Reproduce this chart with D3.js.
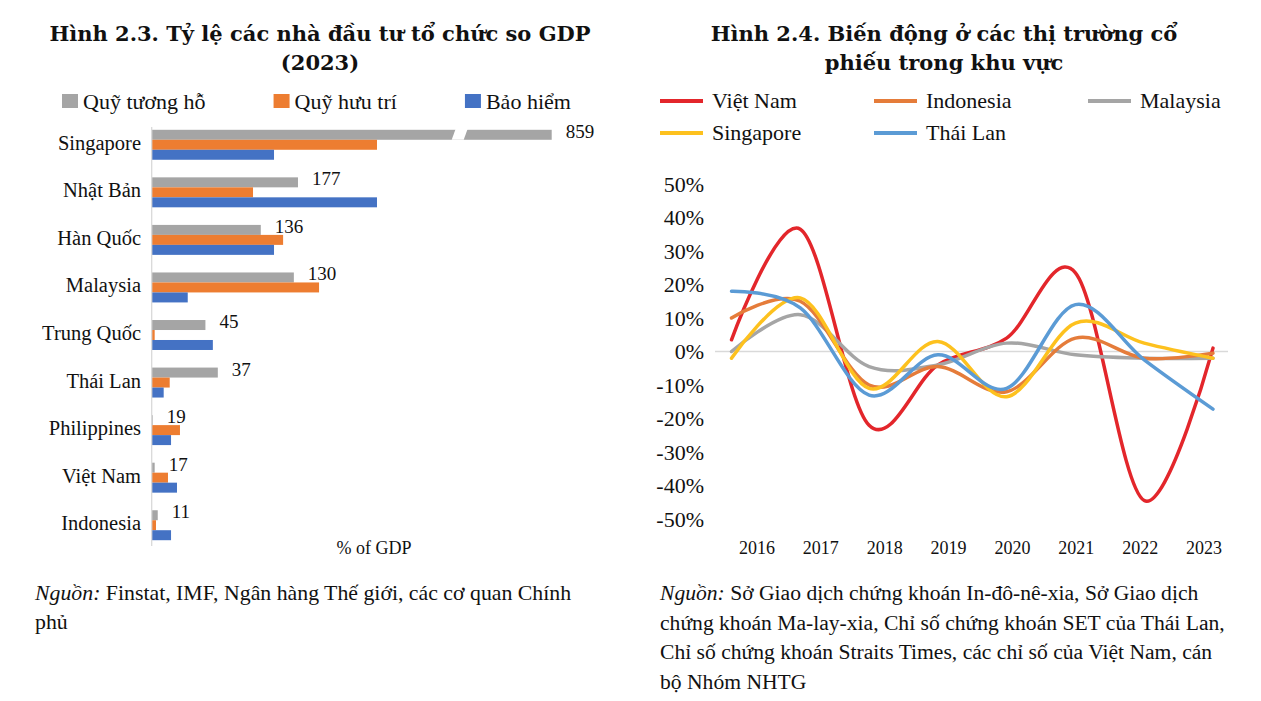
<!DOCTYPE html>
<html><head><meta charset="utf-8">
<script src="https://cdn.jsdelivr.net/npm/d3@7/dist/d3.min.js"></script>
<style>
body{margin:0;background:#fff;}
svg{display:block;}
text{font-family:"Liberation Serif",serif;fill:#111;}
.title{font-family:"DejaVu Serif",serif;font-weight:bold;font-size:21px;}
</style></head>
<body>
<svg id="chart" width="1261" height="701"></svg>
<script>
// ---------- Left chart data ----------
const countries = ["Singapore","Nhật Bản","Hàn Quốc","Malaysia","Trung Quốc","Thái Lan","Philippines","Việt Nam","Indonesia"];
const barSeriesNames = ["Quỹ tương hỗ","Quỹ hưu trí","Bảo hiểm"];
const mutualFunds = [859,177,132,172,65,80,1.2,3.6,7.3];
const pensionFunds = [272.6,122.6,159,202.5,3.6,21.8,34.2,19.7,5.2];
const insurance = [148,272.6,148,43.6,74,14.5,23.4,30.6,23.4];
const valueLabels = [859,177,136,130,45,37,19,17,11];
const barAxisMax = 484;

// ---------- Right chart data ----------
const years = ["2016","2017","2018","2019","2020","2021","2022","2023"];
const lineSeriesNames = ["Việt Nam","Indonesia","Malaysia","Singapore","Thái Lan"];
const vietNam   = [3.5,36.5,-22,-4,4,23.5,-44.5,1];
const indonesia = [10,15,-10,-4.5,-12,4,-2,-0.5];
const malaysia  = [0,11,-4.5,-4,2.5,-1,-2,-2];
const singapore = [-2,16,-11,3,-13.5,8.5,2.5,-2];
const thaiLan   = [18,13,-13,-1,-11,14,-2.5,-17.2];
const yTicks = [50,40,30,20,10,0,-10,-20,-30,-40,-50];

const barColors = ["#a5a5a5","#ed7d31","#4472c4"];
const lineColors = ["#e3262b","#e57c3a","#a5a5a5","#fdc11e","#5b9bd5"];

const svg = d3.select("#chart");

// ================= LEFT CHART =================
const L = svg.append("g");
L.append("text").attr("class","title").attr("x",320).attr("y",41).attr("text-anchor","middle")
  .text("Hình 2.3. Tỷ lệ các nhà đầu tư tổ chức so GDP");
L.append("text").attr("class","title").attr("x",320).attr("y",70).attr("text-anchor","middle")
  .text("(2023)");

// legend
let lx = 62;
barSeriesNames.forEach((n,i)=>{
  L.append("rect").attr("x",lx).attr("y",94).attr("width",16).attr("height",14).attr("fill",barColors[i]);
  const t = L.append("text").attr("x",lx+21).attr("y",109).attr("font-size",22).text(n);
  lx = lx + 21 + t.node().getComputedTextLength() + 68;
});

const x = d3.scaleLinear().domain([0,barAxisMax]).range([151.7,551.7]);
const y = d3.scaleBand().domain(countries).range([121,549]).paddingInner(0.37).paddingOuter(0.185);
const ySub = d3.scaleBand().domain([0,1,2]).range([0,y.bandwidth()]);
const seriesVals = [mutualFunds,pensionFunds,insurance];

countries.forEach((c,ci)=>{
  seriesVals.forEach((arr,si)=>{
    const v = Math.min(arr[ci],barAxisMax);
    L.append("rect").attr("x",x(0)).attr("y",y(c)+ySub(si))
      .attr("width",x(v)-x(0)).attr("height",ySub.bandwidth()).attr("fill",barColors[si]);
  });
  L.append("text").attr("x",141).attr("y",y(c)+y.bandwidth()/2+5).attr("text-anchor","end")
    .attr("font-size",20.5).text(c);
  const gv = Math.min(mutualFunds[ci],barAxisMax);
  L.append("text").attr("x",x(gv)+14).attr("y",y(c)+ySub(0)+ySub.bandwidth()/2+3)
    .attr("font-size",19).text(valueLabels[ci]);
});
// axis break on the clipped bar
countries.forEach((c,ci)=>{
  if(mutualFunds[ci]>barAxisMax){
    const bx = x(barAxisMax*0.755), top=y(c)+ySub(0)-1, bot=top+ySub.bandwidth()+1;
    L.append("path").attr("d",`M${bx+2},${top}L${bx+14},${top}L${bx+10},${bot}L${bx-2},${bot}Z`).attr("fill","#fff");
  }
});
// axis line
L.append("line").attr("x1",x(0)).attr("x2",x(0)).attr("y1",127).attr("y2",546)
  .attr("stroke","#d9d9d9").attr("stroke-width",1.3);
L.append("text").attr("x",374).attr("y",554).attr("text-anchor","middle").attr("font-size",18).text("% of GDP");

// source
const s1 = L.append("text").attr("x",35).attr("y",600).attr("font-size",21.8);
s1.append("tspan").attr("font-style","italic").text("Nguồn:");
s1.append("tspan").text(" Finstat, IMF, Ngân hàng Thế giới, các cơ quan Chính");
L.append("text").attr("x",35).attr("y",629).attr("font-size",21.8).text("phủ");

// ================= RIGHT CHART =================
const R = svg.append("g");
R.append("text").attr("class","title").attr("x",944).attr("y",41).attr("text-anchor","middle")
  .text("Hình 2.4. Biến động ở các thị trường cổ");
R.append("text").attr("class","title").attr("x",944).attr("y",70).attr("text-anchor","middle")
  .text("phiếu trong khu vực");

// legend
lineSeriesNames.forEach((n,i)=>{
  const col = i%3, row = Math.floor(i/3);
  const gx = 660 + col*214, gy = 101 + row*32;
  R.append("line").attr("x1",gx).attr("x2",gx+43).attr("y1",gy).attr("y2",gy)
    .attr("stroke",lineColors[i]).attr("stroke-width",4);
  R.append("text").attr("x",gx+52).attr("y",gy+7).attr("font-size",22).text(n);
});

const yR = d3.scaleLinear().domain([-50,50]).range([519,184]);
const xP = d3.scalePoint().domain(years).range([731.5,1213]);
const xL = d3.scalePoint().domain(years).range([757,1204]);

yTicks.forEach(t=>{
  R.append("text").attr("x",704).attr("y",yR(t)+7.5).attr("text-anchor","end").attr("font-size",22).text(t+"%");
});
R.append("line").attr("x1",715).attr("x2",1228).attr("y1",yR(0)).attr("y2",yR(0))
  .attr("stroke","#d9d9d9").attr("stroke-width",1.3);
years.forEach(yr=>{
  R.append("text").attr("x",xL(yr)).attr("y",554).attr("text-anchor","middle").attr("font-size",18).text(yr);
});

const lineData = [vietNam,indonesia,malaysia,singapore,thaiLan];
const lineGen = d3.line().x((d,i)=>xP(years[i])).y(d=>yR(d)).curve(d3.curveCardinal.tension(0));
const order = [0,2,1,3,4];
order.forEach(i=>{
  R.append("path").attr("d",lineGen(lineData[i])).attr("fill","none")
    .attr("stroke",lineColors[i]).attr("stroke-width",3.5).attr("stroke-linecap","round");
});

// source
const srcLines = ["Sở Giao dịch chứng khoán In-đô-nê-xia, Sở Giao dịch",
  "chứng khoán Ma-lay-xia, Chỉ số chứng khoán SET của Thái Lan,",
  "Chỉ số chứng khoán Straits Times, các chỉ số của Việt Nam, cán",
  "bộ Nhóm NHTG"];
srcLines.forEach((t,i)=>{
  const tx = R.append("text").attr("x",660).attr("y",600+i*29.7).attr("font-size",21.6);
  if(i===0){ tx.append("tspan").attr("font-style","italic").text("Nguồn:"); tx.append("tspan").text(" "+t); }
  else tx.text(t);
});
</script>
</body></html>
